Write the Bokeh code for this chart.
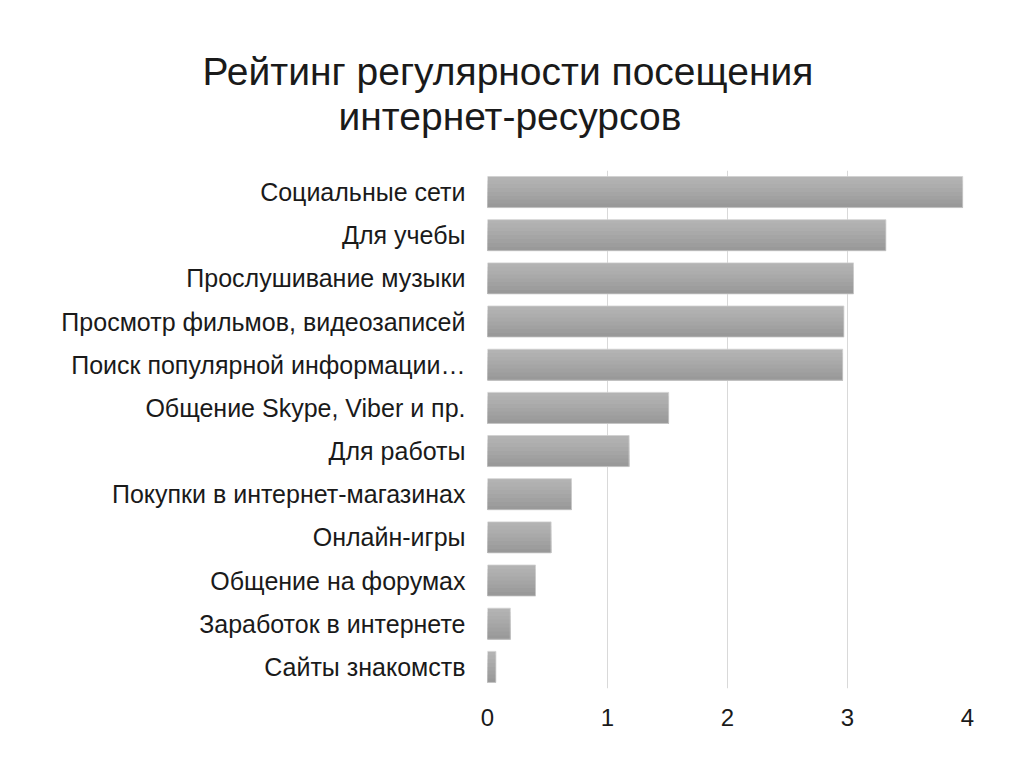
from bokeh.plotting import figure
from bokeh.models import Title, FactorRange
from bokeh.transform import dodge
from bokeh.embed import file_html
from bokeh.resources import INLINE

categories = [
    "Социальные сети",
    "Для учебы",
    "Прослушивание музыки",
    "Просмотр фильмов, видеозаписей",
    "Поиск популярной информации…",
    "Общение Skype, Viber и пр.",
    "Для работы",
    "Покупки в интернет-магазинах",
    "Онлайн-игры",
    "Общение на форумах",
    "Заработок в интернете",
    "Сайты знакомств",
]
scores = [3.96, 3.32, 3.05, 2.97, 2.96, 1.51, 1.18, 0.70, 0.53, 0.40, 0.19, 0.07]
x_ticks = [0, 1, 2, 3, 4]
title_lines = ["Рейтинг регулярности посещения", "интернет-ресурсов"]

FONT = "Liberation Sans"
W, H = 1000, 750
LEFT, RIGHT, TOP, BOTTOM = 487, 33, 170, 62

p = figure(
    width=W, height=H,
    y_range=FactorRange(*reversed(categories)),
    x_range=(0, 4),
    output_backend="svg", toolbar_location=None,
    min_border_left=LEFT, min_border_right=RIGHT,
    min_border_top=TOP, min_border_bottom=BOTTOM,
)
p.outline_line_color = None
p.background_fill_color = "white"
p.border_fill_color = "white"

# gradient-like bars: overlapping bands from light (top) to dark (bottom)
bar_h = 0.72
n_bands = 8
colors = ["#b3b3b3", "#b0b0b0", "#adadad", "#a9a9a9", "#a5a5a5", "#a1a1a1", "#9d9d9d", "#999999"]
band = bar_h / n_bands
data = dict(cat=categories, val=scores)
for i in range(n_bands):
    if i == 0:
        off, hh = 0.0, bar_h
    else:
        top_edge = bar_h / 2 - band * i
        off, hh = (top_edge - bar_h / 2) / 2, top_edge + bar_h / 2
    p.hbar(y=dodge("cat", off, range=p.y_range), right="val", left=0,
           height=hh, source=data, fill_color=colors[i], line_color=None)
p.hbar(y="cat", right="val", left=0, height=bar_h, source=data,
       fill_color=None, line_color="#d0d0d0", line_width=0.8)

p.xgrid.grid_line_color = "#d9d9d9"
p.xgrid.grid_line_width = 1
p.ygrid.grid_line_color = None
p.xaxis.ticker = x_ticks
p.xaxis.axis_line_color = None
p.xaxis.major_tick_line_color = None
p.xaxis.minor_tick_line_color = None
p.xaxis.major_label_text_font = FONT
p.xaxis.major_label_text_font_size = "24px"
p.xaxis.major_label_text_color = "#1a1a1a"
p.xaxis.major_label_standoff = 14

p.yaxis.axis_line_color = None
p.yaxis.major_tick_line_color = None
p.yaxis.minor_tick_line_color = None
p.yaxis.major_label_text_font = FONT
p.yaxis.major_label_text_font_size = "25px"
p.yaxis.major_label_text_color = "#1a1a1a"
p.yaxis.major_label_standoff = 16

# title: spacer, then line 2, then line 1 (stacked upward from the frame)
p.add_layout(Title(text=" ", text_font_size="20px", standoff=8), "above")
p.add_layout(Title(text=title_lines[1], text_font=FONT, text_font_size="39px",
                   text_font_style="normal", text_color="#1a1a1a",
                   align="left", offset=-149, vertical_align="middle", standoff=0), "above")
p.add_layout(Title(text=title_lines[0], text_font=FONT, text_font_size="39px",
                   text_font_style="normal", text_color="#1a1a1a",
                   align="left", offset=-285, vertical_align="middle", standoff=0), "above")

open("out.html", "w").write(file_html(p, INLINE))
